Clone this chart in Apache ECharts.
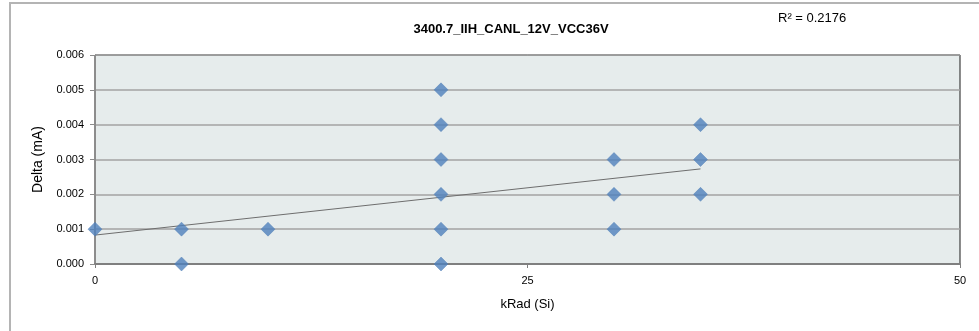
<!DOCTYPE html>
<html><head><meta charset="utf-8">
<script src="https://cdn.jsdelivr.net/npm/echarts@6/dist/echarts.min.js"></script>
<style>html,body{margin:0;padding:0;background:#fff}#c{width:979px;height:331px}</style>
</head><body><div id="c"></div>
<script>
const title = '3400.7_IIH_CANL_12V_VCC36V';
const rSquaredText = 'R² = 0.2176';
const xValues = [0, 5, 5, 10, 20, 20, 20, 20, 20, 20, 30, 30, 30, 35, 35, 35];
const yValues = [0.001, 0.001, 0.000, 0.001, 0.005, 0.004, 0.003, 0.002, 0.001, 0.000, 0.003, 0.002, 0.001, 0.004, 0.003, 0.002];
const trendX = [0, 35];
const trendY = [0.00083, 0.00273];
const xTicks = [0, 25, 50];
const yTicks = [0, 0.001, 0.002, 0.003, 0.004, 0.005, 0.006];

const chart = echarts.init(document.getElementById('c'), null, {renderer: 'canvas'});
const font = '"Liberation Sans", Arial, sans-serif';
chart.setOption({
  animation: false,
  backgroundColor: '#ffffff',
  graphic: [{
    type: 'rect', shape: {x: 10, y: 3, width: 1000, height: 400},
    style: {fill: 'none', stroke: '#B4B4B4', lineWidth: 2}, z: -10, silent: true
  }, {
    type: 'text', left: 778, top: 12,
    style: {text: rSquaredText, fill: '#000', font: '13px ' + font}
  }],
  title: {
    text: title, left: 506, top: 18, textAlign: 'center',
    textStyle: {fontFamily: font, fontSize: 13, fontWeight: 'bold', color: '#000'}
  },
  grid: {left: 95, right: 19, top: 55, bottom: 67, show: true,
    backgroundColor: '#E6ECEC', borderColor: '#1a1a1a', borderWidth: 1},
  xAxis: {
    type: 'value', min: xTicks[0], max: xTicks[xTicks.length - 1], interval: 25,
    name: 'kRad (Si)', nameLocation: 'middle', nameGap: 34,
    nameTextStyle: {fontFamily: font, fontSize: 13, color: '#000'},
    axisLine: {show: true, lineStyle: {color: '#7F7F7F', width: 2}},
    axisTick: {show: true, length: 4, lineStyle: {color: '#7F7F7F'}},
    axisLabel: {fontFamily: font, fontSize: 11, color: '#000', margin: 11},
    splitLine: {show: false}
  },
  yAxis: {
    type: 'value', min: yTicks[0], max: yTicks[yTicks.length - 1], interval: 0.001,
    name: 'Delta (mA)', nameLocation: 'middle', nameGap: 47,
    nameTextStyle: {fontFamily: font, fontSize: 14, color: '#000'},
    axisLine: {show: true, lineStyle: {color: '#8C8C8C', width: 1}},
    axisTick: {show: true, length: 5, lineStyle: {color: '#8C8C8C'}},
    axisLabel: {fontFamily: font, fontSize: 11, color: '#000', margin: 11,
      formatter: v => v.toFixed(3)},
    splitLine: {show: true, lineStyle: {color: '#A3A3A3', width: 1.5}}
  },
  series: [{
    type: 'line', data: trendX.map((x, i) => [x, trendY[i]]),
    symbol: 'none', lineStyle: {color: '#6E6E6E', width: 1}, z: 2, silent: true
  }, {
    type: 'scatter', data: xValues.map((x, i) => [x, yValues[i]]),
    symbol: 'diamond', symbolSize: [14, 14],
    itemStyle: {color: '#4F81BD', borderColor: '#4A7AB5', borderWidth: 0.5}, z: 3
  }]
});
</script></body></html>
